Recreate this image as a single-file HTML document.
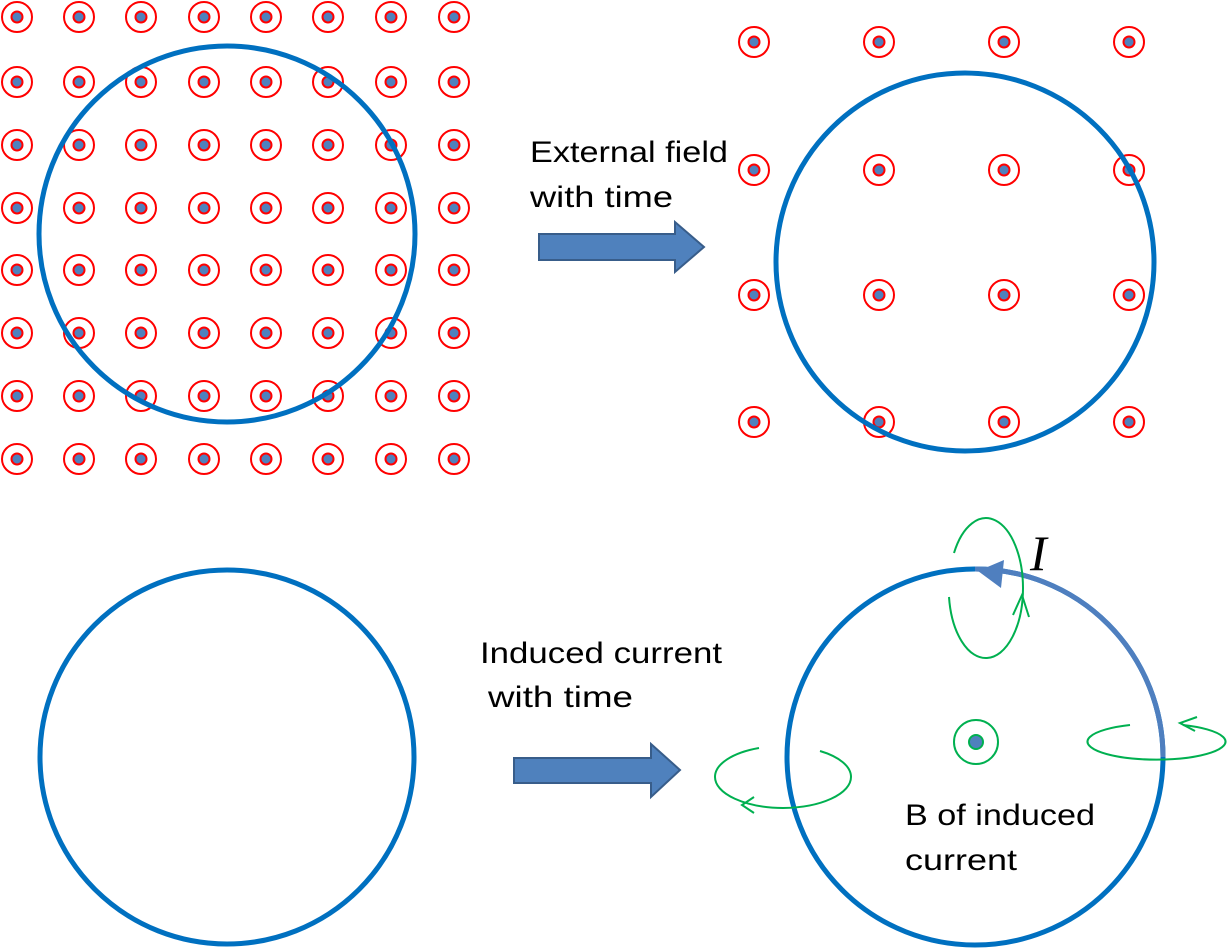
<!DOCTYPE html>
<html><head><meta charset="utf-8"><style>
html,body{margin:0;padding:0;background:#fff;}
svg{display:block;}
.t{font-family:"Liberation Sans",sans-serif;}
</style></head><body>
<svg id="s" width="1229" height="950" viewBox="0 0 1229 950" xmlns="http://www.w3.org/2000/svg">
<g id="grid1"></g>
<g id="grid2"></g>
<circle cx="227" cy="234" r="188" fill="none" stroke="#0070c0" stroke-width="5"/>
<circle cx="965" cy="262" r="189" fill="none" stroke="#0070c0" stroke-width="5"/>
<circle cx="227" cy="757" r="187" fill="none" stroke="#0070c0" stroke-width="5"/>
<circle cx="975" cy="757" r="188" fill="none" stroke="#0070c0" stroke-width="5"/>
<path d="M975 569 A188 188 0 0 1 1163 757" fill="none" stroke="#4f7fbf" stroke-width="5"/>
<polygon points="978,571 1004,560 1001,588" fill="#4f7fbf"/>
<text x="1030" y="570" style="font-family:'Liberation Serif',serif;font-style:italic;font-size:50px">I</text>
<path d="M539 234 H675 V222 L704 247 L675 272 V260 H539 Z" fill="#4f81bd" stroke="#385d8a" stroke-width="2"/>
<path d="M514 758 H651 V744 L680 770 L651 797 V783 H514 Z" fill="#4f81bd" stroke="#385d8a" stroke-width="2"/>
<text class="t" font-size="30" fill="#000"><tspan x="530" y="162" textLength="198" lengthAdjust="spacingAndGlyphs">External field</tspan><tspan x="530" y="207" textLength="143" lengthAdjust="spacingAndGlyphs">with time</tspan></text>
<text class="t" font-size="30" fill="#000"><tspan x="480" y="663" textLength="242" lengthAdjust="spacingAndGlyphs">Induced current</tspan><tspan x="488" y="707" textLength="145" lengthAdjust="spacingAndGlyphs">with time</tspan></text>
<text class="t" font-size="30" fill="#000"><tspan x="905" y="825" textLength="190" lengthAdjust="spacingAndGlyphs">B of induced</tspan><tspan x="905" y="870" textLength="112" lengthAdjust="spacingAndGlyphs">current</tspan></text>
<g fill="none" stroke="#00b050" stroke-width="2">
<path d="M954 553 A37 70 0 0 1 1023 588 A37 70 0 0 1 987 658 A37 70 0 0 1 949 597"/>
<path d="M1013 615 L1022 595 L1029 617"/>
<path d="M1130 725 A69 18 0 1 0 1183 725"/>
<path d="M1197 717 L1180 723 L1195 731"/>
<path d="M759 748 A69 31 0 0 0 715 777 A69 31 0 0 0 783 808 A69 31 0 0 0 851 777 A69 31 0 0 0 820 751"/>
<path d="M754 797 L742 805 L754 813"/>
<circle cx="976" cy="742" r="22"/>
</g>
<circle cx="976" cy="742" r="7" fill="#4f81bd" stroke="#00b050" stroke-width="2"/>
</svg>
<script>
const xs1=[17,79,141,204,266,328,391,454];
const ys1=[17,82,145,208,270,333,396,459];
const xs2=[754,879,1004,1129];
const ys2=[42,170,295,422];
const NS='http://www.w3.org/2000/svg';
function draw(gid,xs,ys){
  const g=document.getElementById(gid);
  ys.forEach(y=>xs.forEach(x=>{
    const c=document.createElementNS(NS,'circle');
    c.setAttribute('cx',x);c.setAttribute('cy',y);c.setAttribute('r',15);
    c.setAttribute('fill','none');c.setAttribute('stroke','#ff0000');c.setAttribute('stroke-width','2');
    
    
    g.appendChild(c);
    const d=document.createElementNS(NS,'circle');
    d.setAttribute('cx',x);d.setAttribute('cy',y);d.setAttribute('r',5.5);
    d.setAttribute('fill','#4f81bd');d.setAttribute('stroke','#ff0000');d.setAttribute('stroke-width','2');
    
    
    g.appendChild(d);
  }));
}
draw('grid1',xs1,ys1);draw('grid2',xs2,ys2);
</script>
</body></html>
